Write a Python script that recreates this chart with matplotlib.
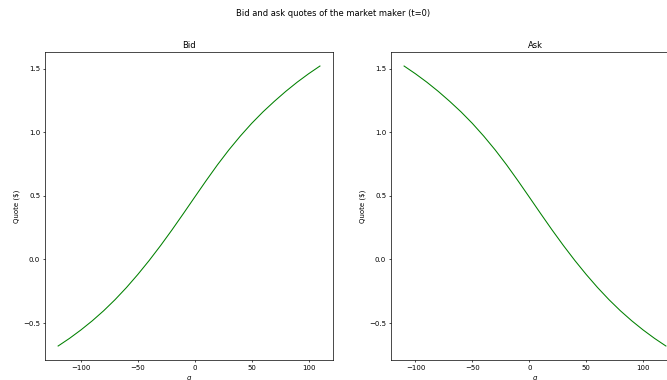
import matplotlib
matplotlib.use("Agg")
import matplotlib.pyplot as plt

# values
bid_q = [-120, -110, -100, -90, -80, -70, -60, -50, -40, -30, -20, -10,
         0, 10, 20, 30, 40, 50, 60, 70, 80, 90, 100, 110]
bid_quote = [-0.680, -0.620, -0.554, -0.482, -0.403, -0.316, -0.221, -0.118,
             -0.008, 0.109, 0.232, 0.360, 0.490, 0.619, 0.744, 0.861, 0.969,
             1.069, 1.160, 1.243, 1.321, 1.393, 1.459, 1.520]

ask_q = [-110, -100, -90, -80, -70, -60, -50, -40, -30, -20, -10, 0,
         10, 20, 30, 40, 50, 60, 70, 80, 90, 100, 110, 120]
ask_quote = [1.520, 1.459, 1.393, 1.321, 1.243, 1.160, 1.069, 0.969, 0.861,
             0.744, 0.619, 0.490, 0.360, 0.232, 0.109, -0.008, -0.118, -0.221,
             -0.316, -0.403, -0.482, -0.554, -0.620, -0.680]

plt.rcParams.update({
    "font.size": 5,
    "axes.linewidth": 0.5,
    "xtick.major.width": 0.5,
    "ytick.major.width": 0.5,
    "xtick.major.size": 1.75,
    "ytick.major.size": 1.75,
    "xtick.major.pad": 1.75,
    "ytick.major.pad": 1.75,
    "axes.titlepad": 3,
    "axes.labelpad": 2,
})

fig = plt.figure(figsize=(6.67, 3.8), dpi=100)
ax_bid = fig.add_axes([0.0675, 0.0526, 0.4318, 0.8105])
ax_ask = fig.add_axes([0.5862, 0.0526, 0.4318, 0.8105])

for ax, q, quote, title in [(ax_bid, bid_q, bid_quote, "Bid"),
                            (ax_ask, ask_q, ask_quote, "Ask")]:
    ax.plot(q, quote, color="green", linewidth=0.75)
    ax.set_title(title, fontsize=6)
    ax.set_xlabel("$q$", fontsize=5)
    ax.set_ylabel("Quote (\\$)", fontsize=5)
    ax.tick_params(labelsize=5)

fig.suptitle("Bid and ask quotes of the market maker (t=0)", fontsize=6, y=0.975)

fig.savefig("out.png", dpi=100)
